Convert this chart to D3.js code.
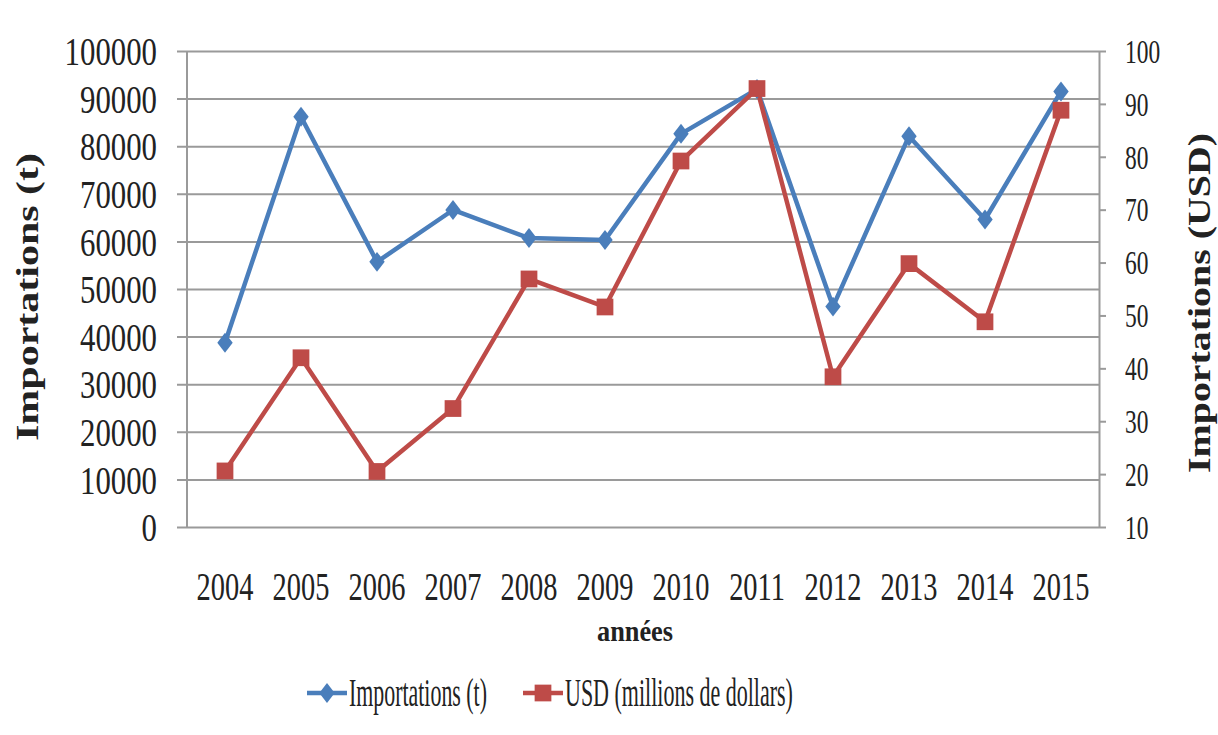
<!DOCTYPE html>
<html lang="fr">
<head>
    <meta charset="UTF-8">
    <title>Importations</title>
    <script src="https://d3js.org/d3.v7.min.js"></script>
    <style>
        body {
            margin: 0;
            background: #fff;
        }
        svg text {
            font-family: "Liberation Serif", "DejaVu Serif", serif;
            fill: #222;
        }
        .grid line {
            stroke: #9a9a9a;
            stroke-width: 2;
        }
        .axis-title {
            font-weight: bold;
        }
    </style>
</head>
<body>
    <svg id="chart" width="1218" height="735"></svg>
    <script>
        // Data
        const years = ["2004", "2005", "2006", "2007", "2008", "2009", "2010", "2011", "2012", "2013", "2014", "2015"];
        const importsTonnes = [38700, 86200, 55700, 66600, 60700, 60300, 82600, 92000, 46300, 82100, 64600, 91500];
        const usdMillions = [20.6, 42.0, 20.5, 32.4, 56.9, 51.6, 79.2, 92.9, 38.4, 59.8, 48.8, 88.8];
        const leftTicks = [0, 10000, 20000, 30000, 40000, 50000, 60000, 70000, 80000, 90000, 100000];
        const rightTicks = [10, 20, 30, 40, 50, 60, 70, 80, 90, 100];
        const seriesNames = ["Importations (t)", "USD (millions de dollars)"];

        const blue = "#4a7ebb", red = "#be4b48";

        const margin = { top: 51, right: 119, bottom: 208, left: 187 },
              width = 1218 - margin.left - margin.right,
              height = 735 - margin.top - margin.bottom;

        const svg = d3.select("#chart");
        const g = svg.append("g").attr("transform", `translate(${margin.left},${margin.top})`);

        // squeeze text horizontally, the original uses a narrow serif
        function squeeze(sel, ratio) {
            sel.each(function () {
                const w = this.getComputedTextLength();
                d3.select(this).attr("textLength", w * ratio).attr("lengthAdjust", "spacingAndGlyphs");
            });
        }

        const x = d3.scaleBand().domain(years).range([0, width]);
        const yL = d3.scaleLinear().domain([0, 100000]).range([height, 0]);
        const yR = d3.scaleLinear().domain([10, 100]).range([height, 0]);

        // gridlines + left axis
        const left = g.append("g").attr("class", "grid")
            .call(d3.axisLeft(yL).tickValues(leftTicks).tickSize(-width - 10).tickSizeOuter(0).tickFormat(d3.format("d")));
        left.select(".domain").remove();
        left.selectAll(".tick line").attr("x1", -10).attr("x2", width);
        left.selectAll(".tick text").attr("x", -30).attr("dy", "0.34em")
            .style("font-size", "40px").call(squeeze, 0.77);

        // left axis line
        g.append("line").attr("x1", 0).attr("x2", 0).attr("y1", 0).attr("y2", height)
            .attr("stroke", "#9a9a9a").attr("stroke-width", 2);

        // right axis
        const right = g.append("g").attr("transform", `translate(${width},0)`)
            .call(d3.axisRight(yR).tickValues(rightTicks).tickSize(7).tickSizeOuter(0));
        right.select(".domain").attr("stroke", "#9a9a9a").attr("stroke-width", 2);
        right.selectAll(".tick line").attr("stroke", "#9a9a9a").attr("stroke-width", 2);
        right.selectAll(".tick text").attr("x", 26).attr("dy", "0.34em")
            .style("font-size", "33px").call(squeeze, 0.71);

        // bottom axis labels
        const bottom = g.append("g").attr("transform", `translate(0,${height})`)
            .call(d3.axisBottom(x).tickSize(0));
        bottom.select(".domain").remove();
        bottom.selectAll(".tick text").attr("y", 73).attr("dy", 0)
            .style("font-size", "40px").call(squeeze, 0.71);

        // lines
        const lineL = d3.line().x((d, i) => x(years[i]) + x.bandwidth() / 2).y(d => yL(d));
        const lineR = d3.line().x((d, i) => x(years[i]) + x.bandwidth() / 2).y(d => yR(d));

        g.append("path").datum(importsTonnes).attr("d", lineL)
            .attr("fill", "none").attr("stroke", blue).attr("stroke-width", 4.5).attr("stroke-linejoin", "round");
        g.append("path").datum(usdMillions).attr("d", lineR)
            .attr("fill", "none").attr("stroke", red).attr("stroke-width", 4.5).attr("stroke-linejoin", "round");

        const diamond = d3.symbol().type(d3.symbolDiamond2).size(210);
        const square = d3.symbol().type(d3.symbolSquare).size(280);

        g.selectAll(".pt-l").data(importsTonnes).enter().append("path")
            .attr("class", "pt-l").attr("d", diamond).attr("fill", blue)
            .attr("transform", (d, i) => `translate(${x(years[i]) + x.bandwidth() / 2},${yL(d)}) scale(0.85,1.1)`);
        g.selectAll(".pt-r").data(usdMillions).enter().append("path")
            .attr("class", "pt-r").attr("d", square).attr("fill", red)
            .attr("transform", (d, i) => `translate(${x(years[i]) + x.bandwidth() / 2},${yR(d)})`);

        // axis titles
        svg.append("text").attr("class", "axis-title")
            .attr("transform", "translate(38,297) rotate(-90)")
            .style("text-anchor", "middle").style("font-size", "32px")
            .text("Importations (t)").attr("textLength", 288).attr("lengthAdjust", "spacingAndGlyphs");

        svg.append("text").attr("class", "axis-title")
            .attr("transform", "translate(1210,303) rotate(-90)")
            .style("text-anchor", "middle").style("font-size", "32px")
            .text("Importations  (USD)").attr("textLength", 340).attr("lengthAdjust", "spacingAndGlyphs");

        svg.append("text").attr("class", "axis-title")
            .attr("x", 635).attr("y", 641)
            .style("text-anchor", "middle").style("font-size", "30px")
            .text("années").attr("textLength", 76).attr("lengthAdjust", "spacingAndGlyphs");

        // legend (text squeezed with a scale so its box stays narrow)
        const legend = svg.append("g").attr("transform", "translate(0,693)");
        const legendItems = [
            { name: seriesNames[0], color: blue, sym: diamond, sc: "scale(0.85,1.1)", x0: 307, tw: 138 },
            { name: seriesNames[1], color: red, sym: square, sc: "", x0: 523, tw: 228 }
        ];
        legendItems.forEach(it => {
            legend.append("line").attr("x1", it.x0).attr("x2", it.x0 + 40)
                .attr("stroke", it.color).attr("stroke-width", 4.5);
            legend.append("path").attr("d", it.sym).attr("fill", it.color)
                .attr("transform", `translate(${it.x0 + 20},0) ${it.sc}`);
            const t = legend.append("text").attr("x", 0).attr("y", 0)
                .style("font-size", "41px").text(it.name);
            const sx = it.tw / t.node().getComputedTextLength();
            t.attr("transform", `translate(${it.x0 + 42},13) scale(${sx},1)`);
        });
    </script>
</body>
</html>
